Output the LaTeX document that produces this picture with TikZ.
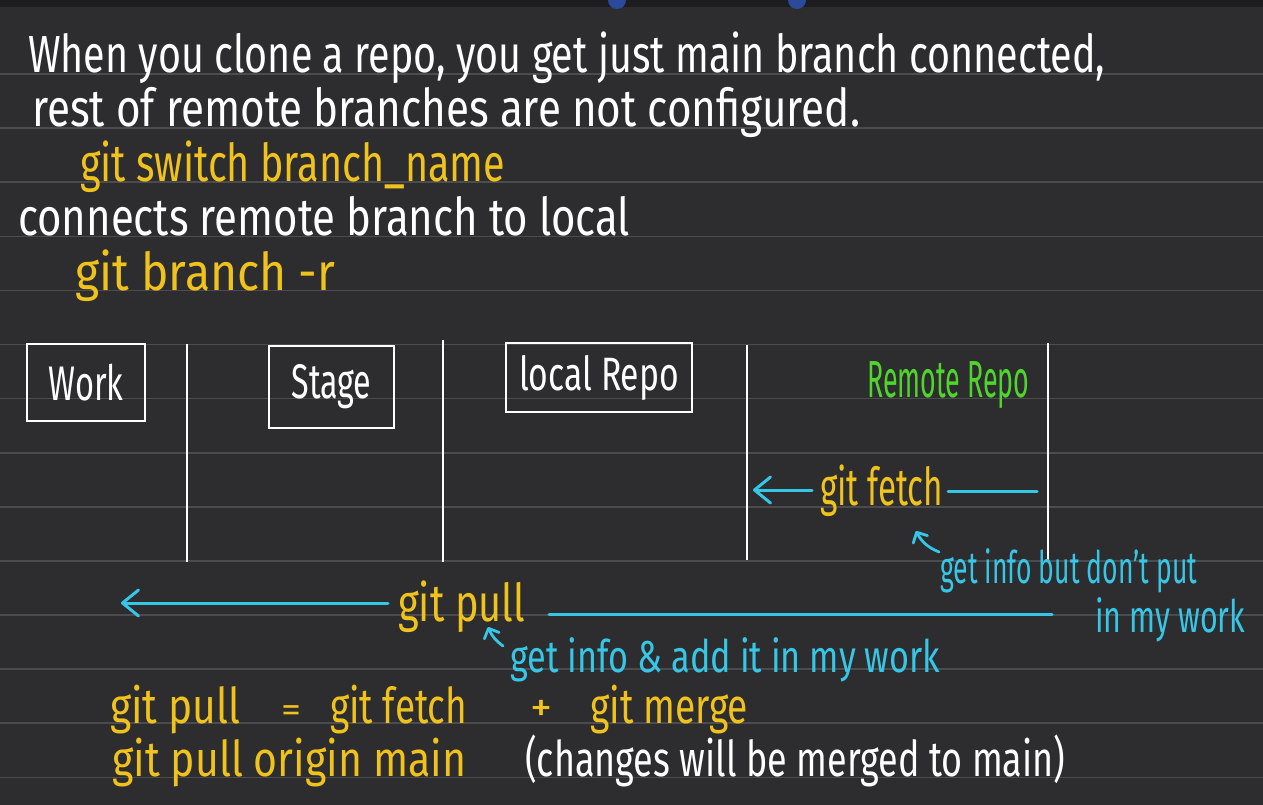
\documentclass[tikz,border=0pt]{standalone}
\usepackage{fontspec}
\setmainfont{Fira Sans}
\usetikzlibrary{arrows.meta}
\definecolor{bg}{HTML}{2D2C2F}
\definecolor{topbar}{HTML}{1D1C1E}
\definecolor{dotblue}{HTML}{2C4A9C}
\definecolor{rulegray}{HTML}{4C4C4F}
\definecolor{gityellow}{HTML}{F0C21C}
\definecolor{gitcyan}{HTML}{36C6E6}
\definecolor{gitgreen}{HTML}{4FD52C}
\newcommand{\hw}[3][1.45]{\resizebox{#2pt}{#1\height}{#3}}
\tikzset{
  txt/.style={anchor=base west, inner sep=0pt, text=white, font=\fontsize{36}{40}\selectfont},
  ytxt/.style={txt, text=gityellow},
  gtxt/.style={txt, text=gitgreen},
  ctxt/.style={txt, text=gitcyan, font=\fontsize{32}{36}\selectfont},
  btxt/.style={txt, font=\fontsize{34}{38}\selectfont},
  ybtxt/.style={btxt, text=gityellow},
  stagebox/.style={draw=white, line width=2.5pt, inner sep=0pt, text=white, font=\fontsize{36}{40}\selectfont},
  rail/.style={draw=white, line width=2.5pt},
  rule/.style={draw=rulegray, line width=1.6pt},
  flow/.style={draw=gitcyan, line width=3pt, line cap=round},
  chev/.style={flow, -{Straight Barb[length=16pt,width=26pt,round]}},
  small/.style={draw=gitcyan, line width=2.8pt, line cap=round, -{Straight Barb[length=8pt,width=16pt,round]}}
}
\begin{document}
\begin{tikzpicture}[x=1pt,y=-1pt]
\useasboundingbox (0,0) rectangle (1263,805);
\fill[bg] (0,0) rectangle (1263,805);
\fill[topbar] (0,0) rectangle (1263,7);
\fill[dotblue] (608,0) arc[start angle=180,end angle=0,radius=9] -- cycle;
\fill[dotblue] (788,0) arc[start angle=180,end angle=0,radius=9] -- cycle;
\foreach \k in {0,...,13} \draw[rule] (0,{74+54.1*\k}) -- (1263,{74+54.1*\k});

% top notes
\node[txt] (t1) at (28,73) {\hw{1077}{When you clone a repo, you get just main branch connected,}};
\node[txt] (t2) at (32,127) {\hw{828}{rest of remote branches are not configured.}};
\node[ytxt] (y1) at (80,182) {\hw{425}{git switch branch\_name}};
\node[txt] (t3) at (18,236) {\hw{612}{connects remote branch to local}};
\node[ytxt] (y2) at (75,290) {\hw{260}{git branch -r}};

% boxes
\node[stagebox, minimum width=118pt, minimum height=77pt] (work) at (86,382.5) {\hw[1.35]{75}{Work}};
\node[stagebox, minimum width=125pt, minimum height=82pt] (stage) at (331.5,387) {\hw[1.35]{80}{Stage}};
\node[stagebox, minimum width=186pt, minimum height=69pt] (local) at (599,377.5) {\hw[1.3]{160}{local Repo}};
\node[gtxt] (remote) at (867,397) {\hw{162}{Remote Repo}};

% rails
\coordinate (r1a) at (187,344); \coordinate (r1b) at (187,562);
\coordinate (r2a) at (443,340); \coordinate (r2b) at (443,562);
\coordinate (r3a) at (747,345); \coordinate (r3b) at (747,560);
\coordinate (r4a) at (1048,343); \coordinate (r4b) at (1048,562);
\draw[rail] (r1a) -- (r1b);
\draw[rail] (r2a) -- (r2b);
\draw[rail] (r3a) -- (r3b);
\draw[rail] (r4a) -- (r4b);

% git fetch
\node[ytxt] (fetch) at (820,505) {\hw{123}{git fetch}};
\coordinate (fetchtail) at (812,490);
\coordinate (fetchtip) at (753,490);
\coordinate (fetchr1) at (948,491);
\coordinate (fetchr2) at (1037,491);
\draw[chev] (fetchtail) -- (fetchtip);
\draw[flow] (fetchr1) -- (fetchr2);
\coordinate (fa1) at (939,552);
\coordinate (fa2) at (916,531);
\draw[small] (fa1) to[bend left=20] (fa2);
\node[ctxt] (finfo) at (940,583) {\hw[1.4]{257}{get info but don't put}};
\node[ctxt] (fwork) at (1095,632) {\hw[1.4]{150}{in my work}};

% git pull
\node[ytxt] (pull) at (398,621) {\hw{127}{git pull}};
\coordinate (pulltail) at (388,603);
\coordinate (pulltip) at (121,603);
\coordinate (pullr1) at (549,614);
\coordinate (pullr2) at (1052,614);
\draw[chev] (pulltail) -- (pulltip);
\draw[flow] (pullr1) -- (pullr2);
\coordinate (pa1) at (503,646);
\coordinate (pa2) at (488,627);
\draw[small] (pa1) to[bend left=15] (pa2);
\node[ctxt] (pinfo) at (510,672) {\hw[1.4]{430}{get info \& add it in my work}};

% bottom
\node[ybtxt] (b1) at (110,723) {\hw{130}{git pull}};
\node[ybtxt] (b2) at (281,721) {\hw[1]{20}{=}};
\node[ybtxt] (b3) at (330,723) {\hw{137}{git fetch}};
\node[ybtxt] (b4) at (530,721) {\hw[1.2]{22}{+}};
\node[ybtxt] (b5) at (590,723) {\hw{158}{git merge}};
\node[ybtxt] (b6) at (112,776) {\hw{354}{git pull origin main}};
\node[btxt] (b7) at (525,776) {\hw{540}{(changes will be merged to main)}};
\end{tikzpicture}
\end{document}
